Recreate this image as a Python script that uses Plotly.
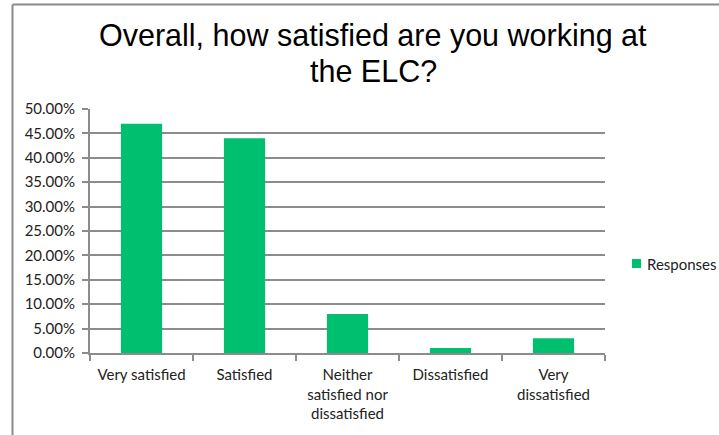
import plotly.graph_objects as go

categories = ["Very satisfied", "Satisfied", "Neither<br>satisfied nor<br>dissatisfied",
              "Dissatisfied", "Very<br>dissatisfied"]
responses = [0.47, 0.44, 0.08, 0.01, 0.03]
series_name = "Responses"
title_lines = ["Overall, how satisfied are you working at", "the ELC?"]

W, H = 719, 435
L, R, T, B = 90, 114, 109, 82
pw, ph = W - L - R, H - T - B
bar_color = "#00BF6F"

def px_x(x):
    return (x - L) / pw

def px_y(y):
    return (H - B - y) / ph

fig = go.Figure(go.Bar(
    x=categories, y=responses, name=series_name,
    marker=dict(color=bar_color, line=dict(width=0)),
    showlegend=False,
))

grid = "#8c8c8c"
tick_font = dict(family="Lato, Open Sans, sans-serif", size=15, color="#222")
title_font = dict(family="Liberation Sans, Arial, sans-serif", size=30.5, color="#000")

annotations = [
    dict(text=line, xref="paper", yref="paper", x=px_x(373), y=px_y(yc),
         xanchor="center", yanchor="middle", showarrow=False, font=title_font)
    for line, yc in zip(title_lines, [36, 71])
]
# legend entry: swatch + label
annotations.append(dict(text=series_name, xref="paper", yref="paper",
                        x=px_x(645), y=px_y(264), xanchor="left", yanchor="middle",
                        showarrow=False, font=tick_font))

fig.update_layout(
    width=W, height=H,
    margin=dict(l=L, r=R, t=T, b=B, autoexpand=False),
    paper_bgcolor="white", plot_bgcolor="white",
    bargap=0.6,
    xaxis=dict(showline=True, linecolor=grid, linewidth=2, ticks="outside",
               tickson="boundaries", ticklen=6, tickcolor=grid, tickwidth=2,
               ticklabelstandoff=7,
               tickfont=tick_font, showgrid=False, automargin=False),
    yaxis=dict(range=[0, 0.5], dtick=0.05, tickformat=".2%", showgrid=True,
               gridcolor=grid, gridwidth=2, showline=True, linecolor=grid, linewidth=2,
               ticks="outside", ticklen=6, tickcolor=grid, tickwidth=2,
               ticklabelstandoff=4,
               tickfont=tick_font, zeroline=False, automargin=False),
    annotations=annotations,
    shapes=[
        dict(type="rect", xref="paper", yref="paper", x0=px_x(632), x1=px_x(641),
             y0=px_y(259), y1=px_y(268), fillcolor=bar_color, line=dict(width=0)),
        dict(type="line", xref="paper", yref="paper", x0=px_x(12.5), x1=px_x(W + 2),
             y0=px_y(4.5), y1=px_y(4.5), line=dict(color="#8a8a8a", width=2)),
        dict(type="line", xref="paper", yref="paper", x0=px_x(12.5), x1=px_x(12.5),
             y0=px_y(4.5), y1=px_y(H + 2), line=dict(color="#8a8a8a", width=2)),
    ],
)

fig.write_html("out.html")
